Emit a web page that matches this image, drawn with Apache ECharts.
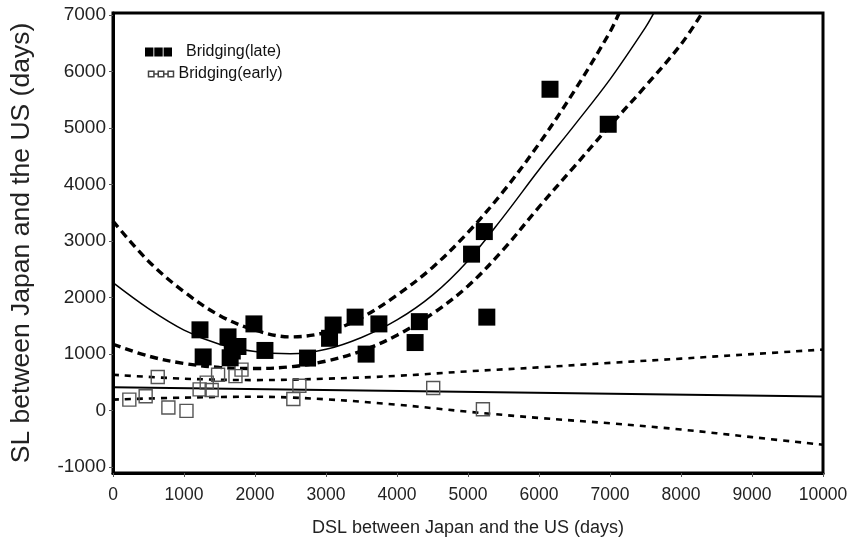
<!DOCTYPE html>
<html>
<head>
<meta charset="utf-8">
<script src="https://cdn.jsdelivr.net/npm/echarts@6/dist/echarts.min.js"></script>
<style>
  html, body { margin: 0; padding: 0; background: #fff; }
  #chart { width: 855px; height: 552px; }
</style>
</head>
<body>
<div id="chart"></div>
<script>
// Bridging (late): observed points
const lateX = [1225, 1270, 1620, 1760, 1680, 1650, 1985, 2140, 2740, 3050, 3100, 3410, 3745, 3565, 4315, 4255, 5265, 5050, 5230, 6155, 6975];
const lateY = [1425, 945, 1300, 1130, 1050, 930, 1530, 1060, 925, 1275, 1510, 1650, 1530, 995, 1570, 1200, 1650, 2765, 3165, 5685, 5065];

// Bridging (early): observed points
const earlyX = [230, 460, 630, 780, 1035, 1220, 1320, 1390, 1480, 1725, 1810, 2540, 2625, 4510, 5210];
const earlyY = [190, 250, 590, 50, -10, 370, 490, 360, 630, 605, 720, 200, 435, 395, 20];

// Fitted curve for the late group and its confidence band
const lateFitX = [0, 500, 1000, 1500, 2000, 2500, 3000, 3500, 4000, 4500, 5000, 5500, 6000, 6500, 7000, 7500, 7620];
const lateFitY = [2260, 1800, 1420, 1170, 1040, 1000, 1080, 1290, 1600, 2040, 2650, 3430, 4260, 5050, 5860, 6780, 7040];
const lateUpperX = [0, 500, 1000, 1500, 2000, 2500, 3000, 3500, 4000, 4500, 5000, 5500, 6000, 6500, 7000, 7130];
const lateUpperY = [3350, 2640, 2100, 1680, 1420, 1300, 1380, 1640, 2040, 2530, 3150, 3880, 4720, 5660, 6700, 7040];
const lateLowerX = [0, 500, 1000, 1500, 2000, 2500, 3000, 3500, 4000, 4500, 5000, 5500, 6000, 6500, 7000, 7500, 8000, 8300];
const lateLowerY = [1170, 960, 830, 760, 740, 770, 870, 1050, 1330, 1710, 2200, 2850, 3600, 4320, 5040, 5740, 6480, 7040];

// Fitted line for the early group and its confidence band
const earlyFitX = [0, 10000];
const earlyFitY = [410, 245];
const earlyBandX = [0, 1000, 2000, 3000, 4000, 5000, 6000, 7000, 8000, 9000, 10000];
const earlyUpperY = [630, 560, 535, 560, 610, 690, 760, 840, 915, 995, 1075];
const earlyLowerY = [190, 225, 240, 195, 100, -25, -135, -230, -340, -475, -610];

// Axis tick labels
const xTicks = [0, 1000, 2000, 3000, 4000, 5000, 6000, 7000, 8000, 9000, 10000];
const yTicks = [-1000, 0, 1000, 2000, 3000, 4000, 5000, 6000, 7000];

const pairs = (xs, ys) => xs.map((x, i) => [x, ys[i]]);

const LATE = 'Bridging(late)';
const EARLY = 'Bridging(early)';
const FONT = '"Liberation Sans", Arial, sans-serif';

function bandLine(name, data, width, dash) {
  return {
    name: name,
    type: 'line',
    data: data,
    smooth: 0.35,
    showSymbol: false,
    symbol: 'none',
    silent: true,
    z: 3,
    lineStyle: { color: '#000', width: width, type: dash }
  };
}

const chart = echarts.init(document.getElementById('chart'));
chart.setOption({
  animation: false,
  backgroundColor: '#fff',
  grid: {
    left: 113, right: 32, top: 13, bottom: 79,
    containLabel: false,
    outerBoundsMode: 'none',
    show: true, borderColor: '#000', borderWidth: 3, backgroundColor: 'transparent'
  },
  legend: [
    {
      left: 140, top: 39,
      itemWidth: 27, itemHeight: 9,
      textStyle: { fontFamily: FONT, fontSize: 16, color: '#111', padding: [0, 0, 0, 9] },
      data: [{
        name: LATE,
        icon: 'path://M0,0h8.4v9h-8.4z M9.3,0h8.4v9h-8.4z M18.6,0h8.4v9h-8.4z',
        itemStyle: { color: '#000', opacity: 1 }
      }]
    },
    {
      left: 141, top: 61,
      itemWidth: 25, itemHeight: 6,
      textStyle: { fontFamily: FONT, fontSize: 16, color: '#111', padding: [0, 0, 0, 0] },
      itemGap: 0,
      data: [{
        name: EARLY,
        icon: 'path://M0.5,0.5h5v5h-5z M9.5,0.5h5v5h-5z M18.5,0.5h5v5h-5z M5.5,3L9.5,3 M14.5,3L18.5,3',
        itemStyle: { color: 'none', borderColor: '#444', borderWidth: 1.5, opacity: 1 }
      }]
    }
  ],
  xAxis: {
    type: 'value',
    min: 0, max: 10000, interval: 1000,
    name: 'DSL between Japan and the US (days)',
    nameLocation: 'middle', nameGap: 46,
    nameTextStyle: { fontFamily: FONT, fontSize: 18, color: '#222' },
    axisLine: { show: true, onZero: false, lineStyle: { color: '#000', width: 3 } },
    axisTick: { show: true, length: 4, lineStyle: { color: '#555', width: 1 } },
    axisLabel: {
      fontFamily: FONT, fontSize: 17.5, color: '#222', margin: 13,
      formatter: v => String(v)
    },
    splitLine: { show: false }
  },
  yAxis: {
    type: 'value',
    min: -1110, max: 7035,
    name: 'SL between Japan and the US (days)',
    nameLocation: 'middle', nameGap: 78,
    nameTextStyle: { fontFamily: FONT, fontSize: 26.5, color: '#222' },
    axisLine: { show: true, onZero: false, lineStyle: { color: '#000', width: 3 } },
    axisTick: { show: true, length: 4, customValues: yTicks, lineStyle: { color: '#555', width: 1 } },
    axisLabel: {
      fontFamily: FONT, fontSize: 19, color: '#222', margin: 7, customValues: yTicks,
      formatter: v => String(v)
    },
    splitLine: { show: false }
  },
  series: [
    bandLine('earlyUpper', pairs(earlyBandX, earlyUpperY), 2.6, [6, 6]),
    bandLine('earlyLower', pairs(earlyBandX, earlyLowerY), 2.6, [6, 6]),
    bandLine('earlyFit', pairs(earlyFitX, earlyFitY), 2, 'solid'),
    bandLine('lateUpper', pairs(lateUpperX, lateUpperY), 3.4, [8, 5]),
    bandLine('lateLower', pairs(lateLowerX, lateLowerY), 3.4, [8, 5]),
    bandLine('lateFit', pairs(lateFitX, lateFitY), 1.5, 'solid'),
    {
      name: EARLY,
      type: 'scatter',
      data: pairs(earlyX, earlyY),
      symbol: 'rect',
      symbolSize: 13,
      z: 4,
      itemStyle: { color: 'rgba(255,255,255,0)', borderColor: '#555', borderWidth: 1.4, opacity: 1 }
    },
    {
      name: LATE,
      type: 'scatter',
      data: pairs(lateX, lateY),
      symbol: 'rect',
      symbolSize: 17,
      z: 5,
      itemStyle: { color: '#000', opacity: 1 }
    }
  ]
});
</script>
</body>
</html>
